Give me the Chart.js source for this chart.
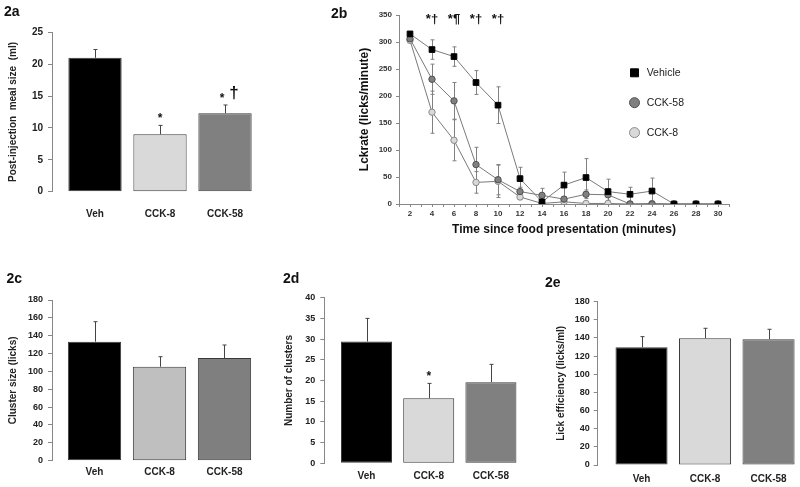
<!DOCTYPE html>
<html>
<head>
<meta charset="utf-8">
<script src="https://cdn.jsdelivr.net/npm/chart.js@4.4.1/dist/chart.umd.min.js"></script>
<style>
  body { margin: 0; background: #fff; width: 800px; height: 487px; position: relative; overflow: hidden; }
  canvas { position: absolute; }
</style>
</head>
<body>
<canvas id="c2a" width="265" height="245" style="left:0;top:0"></canvas>
<canvas id="c2b" width="512" height="250" style="left:288px;top:0"></canvas>
<canvas id="c2c" width="265" height="237" style="left:0;top:250px"></canvas>
<canvas id="c2d" width="265" height="237" style="left:265px;top:250px"></canvas>
<canvas id="c2e" width="270" height="237" style="left:530px;top:250px"></canvas>
<script>
Chart.defaults.font.family = "'Liberation Sans', Arial, Helvetica, sans-serif";
Chart.defaults.color = '#222';

// groups on the bar panels
const groups = ['Veh', 'CCK-8', 'CCK-58'];

// 2a post-injection meal size (ml)
const mealSize = [21.0, 9.0, 12.3];
const mealSizeErr = [1.3, 1.4, 1.3];
const mealSizeMarks = ['', '*', '*†'];

// 2c cluster size (licks)
const clusterSize = [133.3, 105.3, 115.0];
const clusterSizeErr = [22.4, 11.2, 14.6];

// 2d number of clusters
const clusterCount = [29.4, 15.7, 19.6];
const clusterCountErr = [5.6, 3.6, 4.3];
const clusterCountMarks = ['', '*', ''];

// 2e lick efficiency (licks/ml)
const lickEff = [129.8, 139.7, 138.6];
const lickEffErr = [11.7, 11.0, 11.0];

// 2b lick rate over time
const minutes = [2, 4, 6, 8, 10, 12, 14, 16, 18, 20, 22, 24, 26, 28, 30];
const seriesNames = ['Vehicle', 'CCK-58', 'CCK-8'];
const vehicleRate = [315, 286, 273, 225, 183, 47, 4, 35, 49, 23, 18, 24, 0, 0, 0];
const vehicleErr  = [3, 18, 18, 22, 34, 21, 4, 24, 35, 23, 13, 24, 0, 0, 0];
const cck58Rate   = [306, 231, 191, 73, 45, 23, 16, 9, 18, 17, 0, 0, 0, 0, 0];
const cck58Err    = [3, 28, 34, 32, 28, 8, 13, 5, 8, 10, 0, 0, 0, 0, 0];
const cck8Rate    = [303, 170, 118, 40, 42, 13, 1, 4, 1, 1, 0, 1, 0, 0, 0];
const cck8Err     = [3, 39, 38, 20, 30, 5, 2, 3, 1, 1, 0, 1, 0, 0, 0];
const timeMarks   = ['', '*†', '*¶', '*†', '*†', '', '', '', '', '', '', '', '', '', ''];

// error bars: up only for bars, both ways for the time course
function errorBarPlugin(both, color, behind) {
  const draw = (chart) => {
    const { ctx } = chart;
    const y = chart.scales.y;
    ctx.save();
    ctx.strokeStyle = color;
    ctx.lineWidth = 1;
    chart.data.datasets.forEach((ds, di) => {
      if (!ds.errors) return;
      chart.getDatasetMeta(di).data.forEach((el, i) => {
        const e = ds.errors[i];
        if (!e) return;
        const v = ds.data[i].y;
        const px = Math.round(el.x) + 0.5;
        const top = y.getPixelForValue(v + e);
        const bot = both ? y.getPixelForValue(Math.max(v - e, 0)) : el.y;
        ctx.beginPath();
        ctx.moveTo(px, bot);
        ctx.lineTo(px, top);
        ctx.moveTo(px - 2, top);
        ctx.lineTo(px + 2, top);
        if (both) {
          ctx.moveTo(px - 2, bot);
          ctx.lineTo(px + 2, bot);
        }
        ctx.stroke();
      });
    });
    ctx.restore();
  };
  return behind
    ? { id: 'errorBars', beforeDatasetsDraw: draw }
    : { id: 'errorBars', afterDatasetsDraw: draw };
}

// significance marks above the bars
function barMarkPlugin(marks) {
  return {
    id: 'barMarks',
    afterDatasetsDraw(chart) {
      if (!marks) return;
      const { ctx } = chart;
      const ds = chart.data.datasets[0];
      const meta = chart.getDatasetMeta(0);
      const y = chart.scales.y;
      ctx.save();
      ctx.fillStyle = '#111';
      ctx.textBaseline = 'alphabetic';
      ctx.textAlign = 'center';
      marks.forEach((m, i) => {
        if (!m) return;
        const px = meta.data[i].x;
        const top = y.getPixelForValue(ds.data[i].y + ds.errors[i]);
        if (m.includes('†')) {
          ctx.font = "bold 12px 'Liberation Sans', Arial";
          ctx.fillText('*', px - 3, top - 3);
          ctx.font = "bold 17px 'Liberation Sans', Arial";
          ctx.fillText('†', px + 9, top - 7);
        } else {
          ctx.font = "bold 12px 'Liberation Sans', Arial";
          ctx.fillText(m, px, top - 3);
        }
      });
      ctx.restore();
    }
  };
}

function panelLabelPlugin(text, x, y) {
  return {
    id: 'panelLabel',
    afterDraw(chart) {
      const { ctx } = chart;
      ctx.save();
      ctx.fillStyle = '#111';
      ctx.font = "bold 14px 'Liberation Sans', Arial";
      ctx.textBaseline = 'alphabetic';
      ctx.fillText(text, x, y);
      ctx.restore();
    }
  };
}

function barPanel(id, cfg) {
  const canvas = document.getElementById(id);
  const W = canvas.width, H = canvas.height;
  const a = cfg.area;
  return new Chart(canvas, {
    type: 'bar',
    data: {
      datasets: [{
        data: cfg.values.map((v, i) => ({ x: i + 1, y: v })),
        errors: cfg.errors,
        backgroundColor: cfg.colors,
        borderColor: '#3a3a3a',
        borderWidth: 1,
        borderSkipped: false,
        barPercentage: 0.82,
        categoryPercentage: 1
      }]
    },
    options: {
      responsive: false,
      animation: false,
      layout: { padding: { left: 0, top: a.top, right: W - a.right, bottom: 0 } },
      plugins: { legend: { display: false }, tooltip: { enabled: false } },
      scales: {
        x: {
          type: 'linear',
          offset: false,
          min: cfg.xMin,
          max: cfg.xMax,
          afterBuildTicks: s => { s.ticks = groups.map((g, i) => ({ value: i + 1 })); },
          afterFit: s => { s.height = H - a.bottom; },
          grid: { display: false, drawTicks: false, offset: false },
          border: { display: false },
          ticks: {
            callback: v => groups[v - 1],
            font: { size: 10, weight: 'bold' },
            color: '#222',
            padding: cfg.xPad,
            autoSkip: false,
            maxRotation: 0
          }
        },
        y: {
          min: 0,
          max: cfg.yMax,
          afterFit: s => { s.width = a.left; },
          ticks: { stepSize: cfg.yStep, font: { size: cfg.tickSize, weight: 'bold' }, color: '#222', padding: cfg.yPad },
          grid: { drawOnChartArea: false, tickLength: 4, color: '#888' },
          border: { color: '#888' },
          title: {
            display: true,
            text: cfg.yTitle,
            font: { size: 10, weight: 'bold' },
            color: '#222',
            padding: { top: cfg.titlePad, bottom: 0 }
          }
        }
      }
    },
    plugins: [
      errorBarPlugin(false, '#444', false),
      barMarkPlugin(cfg.marks),
      panelLabelPlugin(cfg.label, cfg.labelX, cfg.labelY)
    ]
  });
}

// 2a
barPanel('c2a', {
  values: mealSize, errors: mealSizeErr, marks: mealSizeMarks,
  colors: ['#000000', '#d9d9d9', '#808080'],
  yMax: 25, yStep: 5, yTitle: 'Post-injection  meal size  (ml)', tickSize: 10,
  area: { left: 52, right: 262, top: 32.3, bottom: 191.7 },
  xMin: 0.3385, xMax: 3.569, xPad: 17, yPad: 5, titlePad: 7,
  label: '2a', labelX: 4, labelY: 15.7
});

// 2c
barPanel('c2c', {
  values: clusterSize, errors: clusterSizeErr,
  colors: ['#000000', '#bfbfbf', '#7f7f7f'],
  yMax: 180, yStep: 20, yTitle: 'Cluster size (licks)', tickSize: 9,
  area: { left: 52, right: 262, top: 50, bottom: 210.7 },
  xMin: 0.346, xMax: 3.577, xPad: 6, yPad: 5, titlePad: 7,
  label: '2c', labelX: 6.5, labelY: 33.3
});

// 2d
barPanel('c2d', {
  values: clusterCount, errors: clusterCountErr, marks: clusterCountMarks,
  colors: ['#000000', '#d9d9d9', '#808080'],
  yMax: 40, yStep: 5, yTitle: 'Number of clusters', tickSize: 9,
  area: { left: 59.3, right: 262, top: 47.7, bottom: 213.3 },
  xMin: 0.3215, xMax: 3.58, xPad: 6.5, yPad: 5, titlePad: 18,
  label: '2d', labelX: 18, labelY: 33.3
});

// 2e
barPanel('c2e', {
  values: lickEff, errors: lickEffErr,
  colors: ['#000000', '#d9d9d9', '#808080'],
  yMax: 180, yStep: 20, yTitle: 'Lick efficiency (licks/ml)', tickSize: 9,
  area: { left: 67.7, right: 268, top: 51.7, bottom: 215 },
  xMin: 0.31, xMax: 3.464, xPad: 8, yPad: 4, titlePad: 24.8,
  label: '2e', labelX: 15, labelY: 36.7
});

// 2b legend drawn to the right of the plot
const lickLegend = {
  id: 'lickLegend',
  afterDraw(chart) {
    const { ctx } = chart;
    ctx.save();
    ctx.font = "10.5px 'Liberation Sans', Arial";
    ctx.textBaseline = 'middle';
    chart.data.datasets.forEach((ds, i) => {
      const cx = 346.5, cy = 72.8 + i * 29.9;
      ctx.fillStyle = ds.pointBackgroundColor;
      ctx.strokeStyle = ds.pointBorderColor;
      ctx.lineWidth = 1;
      ctx.beginPath();
      if (ds.pointStyle === 'rect') ctx.rect(cx - 4, cy - 4, 8, 8);
      else ctx.arc(cx, cy, 5, 0, Math.PI * 2);
      ctx.fill();
      ctx.stroke();
      ctx.fillStyle = '#222';
      ctx.fillText(ds.label, 358.7, cy + 0.5);
    });
    ctx.restore();
  }
};

const lickTimeMarks = {
  id: 'lickTimeMarks',
  afterDraw(chart) {
    const { ctx } = chart;
    const x = chart.scales.x, y = chart.scales.y;
    ctx.save();
    ctx.fillStyle = '#111';
    ctx.font = "bold 13px 'Liberation Sans', Arial";
    ctx.textAlign = 'center';
    ctx.textBaseline = 'alphabetic';
    timeMarks.forEach((m, i) => {
      if (m) ctx.fillText(m, x.getPixelForValue(minutes[i]), y.top + 8);
    });
    ctx.restore();
  }
};

function lickSeries(name, vals, errs, style, fill, stroke, radius, order) {
  return {
    label: name,
    data: minutes.map((m, i) => ({ x: m, y: vals[i] })),
    errors: errs,
    borderColor: '#7a7a7a',
    borderWidth: 1,
    pointStyle: style,
    pointRadius: radius,
    pointBackgroundColor: fill,
    pointBorderColor: stroke,
    pointBorderWidth: 1,
    tension: 0,
    order: order
  };
}

new Chart(document.getElementById('c2b'), {
  type: 'line',
  data: {
    datasets: [
      lickSeries(seriesNames[0], vehicleRate, vehicleErr, 'rect', '#000000', '#000000', 4, 0),
      lickSeries(seriesNames[1], cck58Rate, cck58Err, 'circle', '#808080', '#505050', 3.2, 1),
      lickSeries(seriesNames[2], cck8Rate, cck8Err, 'circle', '#d9d9d9', '#8a8a8a', 3.2, 2)
    ]
  },
  options: {
    responsive: false,
    animation: false,
    layout: { padding: { left: 0, top: 15, right: 512 - 441, bottom: 0 } },
    plugins: { legend: { display: false }, tooltip: { enabled: false } },
    scales: {
      x: {
        type: 'linear',
        min: 1,
        max: 31,
        afterFit: s => { s.height = 250 - 204; },
        ticks: {
          stepSize: 1,
          autoSkip: false,
          maxRotation: 0,
          callback: v => (minutes.includes(v) ? String(v) : ''),
          font: { size: 8, weight: 'bold' },
          color: '#333',
          padding: 2
        },
        grid: { drawOnChartArea: false, tickLength: 3, color: '#888' },
        border: { color: '#888' },
        title: {
          display: true,
          text: 'Time since food presentation (minutes)',
          font: { size: 12, weight: 'bold' },
          color: '#111',
          padding: { top: 0, bottom: 12.8 }
        }
      },
      y: {
        min: 0,
        max: 350,
        afterFit: s => { s.width = 111; },
        ticks: { stepSize: 50, font: { size: 8, weight: 'bold' }, color: '#333', padding: 4 },
        grid: { drawOnChartArea: false, tickLength: 3, color: '#888' },
        border: { color: '#888' },
        title: {
          display: true,
          text: 'Lckrate (licks/minute)',
          font: { size: 12, weight: 'bold' },
          color: '#111',
          padding: { top: 69.8, bottom: 0 }
        }
      }
    }
  },
  plugins: [
    errorBarPlugin(true, '#808080', true),
    lickTimeMarks,
    lickLegend,
    panelLabelPlugin('2b', 43, 18)
  ]
});
</script>
</body>
</html>
